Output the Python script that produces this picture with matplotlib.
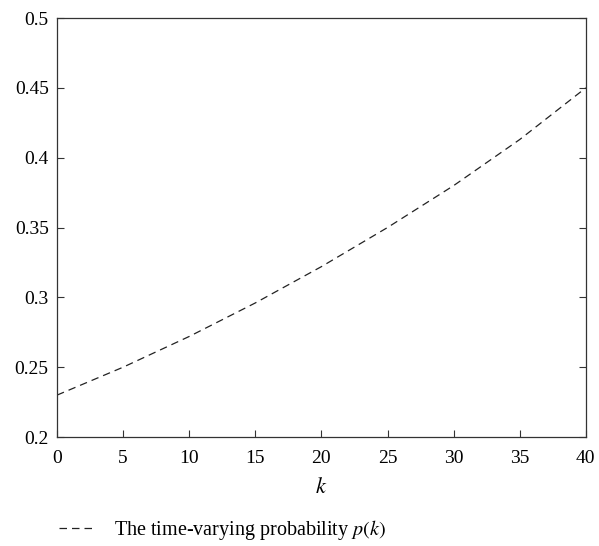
import matplotlib
matplotlib.use("Agg")
import matplotlib.pyplot as plt

# values
k = [0, 5, 10, 15, 20, 25, 30, 35, 40]
p = [0.230, 0.250, 0.272, 0.296, 0.322, 0.350, 0.380, 0.413, 0.450]

xticks = [0, 5, 10, 15, 20, 25, 30, 35, 40]
yticks = [0.2, 0.25, 0.3, 0.35, 0.4, 0.45, 0.5]
ylabels = ['0.2', '0.25', '0.3', '0.35', '0.4', '0.45', '0.5']

plt.rcParams['font.family'] = ['Liberation Serif', 'DejaVu Serif']
plt.rcParams['mathtext.fontset'] = 'stix'

fig = plt.figure(figsize=(5.99, 5.46), dpi=100)
ax = fig.add_axes([0.0952, 0.1996, 0.8828, 0.7674])

ax.plot(k, p, color='#222222', linestyle=(0, (6, 4)), linewidth=0.9,
        label='The time-varying probability $p(k)$')

ax.set_xlim(0, 40)
ax.set_ylim(0.2, 0.5)
ax.set_xticks(xticks)
ax.set_yticks(yticks)
ax.set_yticklabels(ylabels)
ax.tick_params(direction='in', top=False, right=True, labelsize=14, length=5,
               color='#333333')
ax.tick_params(axis='x', pad=9)
ax.tick_params(axis='y', pad=6)
for s in ax.spines.values():
    s.set_linewidth(0.9)
    s.set_color('#333333')

ax.set_xlabel('$k$', fontsize=16, labelpad=8)

ax.legend(loc='upper left', bbox_to_anchor=(-0.03, -0.15), frameon=False,
          fontsize=14.5, handlelength=1.8, handletextpad=0.9)

fig.savefig('out.png', dpi=100)
